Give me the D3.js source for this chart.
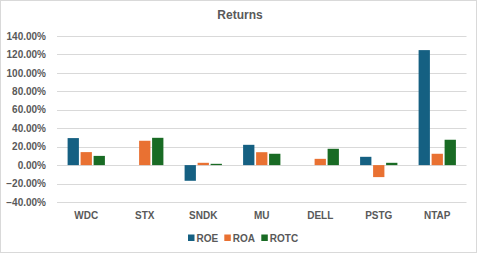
<!DOCTYPE html>
<html><head><meta charset="utf-8">
<script src="https://cdn.jsdelivr.net/npm/d3@7"></script>
<style>body{margin:0;background:#fff}svg{display:block}text{font-family:"Liberation Sans",Arial,sans-serif}</style>
</head><body>
<script>
const categories = ["WDC","STX","SNDK","MU","DELL","PSTG","NTAP"];
const seriesNames = ["ROE","ROA","ROTC"];
const roe  = [29.3, 0, -17, 22, 0, 9, 124.7];
const roa  = [14.1, 26.4, 2.5, 14, 6.8, -13, 12.3];
const rotc = [10, 29.6, 1.4, 12.3, 17.7, 2.5, 27.5];
const yTicks = [-40,-20,0,20,40,60,80,100,120,140];
const colors = ["#156082","#E97132","#196B24"];
const values = [roe, roa, rotc];

const W=479,H=256;
const svg=d3.select("body").append("svg").attr("width",W).attr("height",H);
svg.append("rect").attr("x",0.5).attr("y",0.5).attr("width",476).attr("height",252)
  .attr("fill","#fff").attr("stroke","#d9d9d9");

const x0=d3.scaleBand().domain(categories).range([57,466.5]).paddingInner(0).paddingOuter(0);
const y=d3.scaleLinear().domain([-40,140]).range([202,36]);

svg.append("text").attr("x",240).attr("y",19).attr("text-anchor","middle")
  .attr("font-size",12).attr("font-weight","bold").attr("fill","#595959").text("Returns");

const grid=svg.append("g");
yTicks.forEach(t=>{
  grid.append("line").attr("x1",57).attr("x2",466.5).attr("y1",Math.round(y(t))+0.5).attr("y2",Math.round(y(t))+0.5)
    .attr("stroke","#d9d9d9").attr("stroke-width",1);
});
const yAxis=d3.axisLeft(y).tickValues(yTicks).tickSize(0).tickPadding(0)
  .tickFormat(d=>d3.format(".2f")(d)+"%");
const ya=svg.append("g").attr("transform","translate(46,0)").call(yAxis);
ya.select(".domain").remove();
ya.selectAll("text").attr("font-size",10).attr("font-weight","bold").attr("fill","#595959")
  .attr("font-family","Liberation Sans, Arial, sans-serif");

const bw=11.3, step=13;
const g=svg.append("g");
categories.forEach((c,i)=>{
  const cx=x0(c)+x0.bandwidth()/2;
  values.forEach((arr,s)=>{
    const v=arr[i];
    if(v===0) return;
    const bx=cx+(s-1)*step-bw/2;
    g.append("rect").attr("x",bx).attr("width",bw)
      .attr("y",y(Math.max(0,v))).attr("height",Math.abs(y(v)-y(0)))
      .attr("fill",colors[s]);
  });
});

const xAxis=d3.axisBottom(x0).tickSize(0).tickPadding(0);
const xa=svg.append("g").attr("transform","translate(0,212)").call(xAxis);
xa.select(".domain").remove();
xa.selectAll("text").attr("font-size",10).attr("font-weight","bold").attr("fill","#595959")
  .attr("font-family","Liberation Sans, Arial, sans-serif");

const legX=[188,224.3,261.3];
seriesNames.forEach((n,s)=>{
  svg.append("rect").attr("x",legX[s]).attr("y",234.5).attr("width",6.5).attr("height",6.5).attr("fill",colors[s]);
  svg.append("text").attr("x",legX[s]+8.5).attr("y",241.5).attr("font-size",10).attr("font-weight","bold")
    .attr("fill","#595959").text(n);
});
</script>
</body></html>
